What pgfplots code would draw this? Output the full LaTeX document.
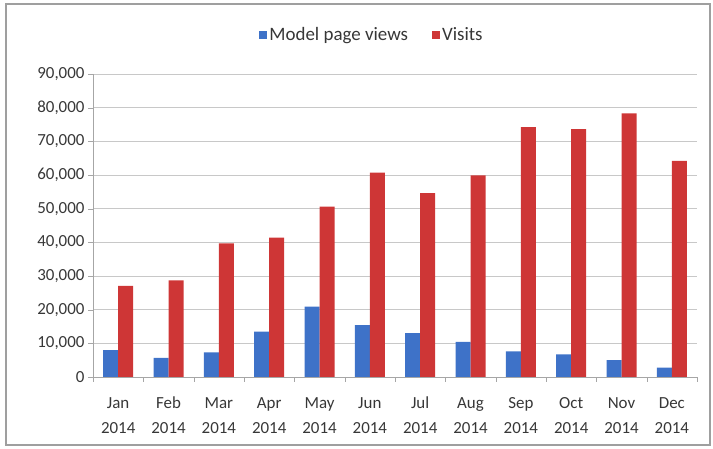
\documentclass[border=0pt]{standalone}
\usepackage{pgfplots}
\pgfplotsset{compat=1.18}
\usepackage{fontspec}
\setmainfont{Carlito}

\definecolor{mpv}{RGB}{62,114,200}
\definecolor{vis}{RGB}{206,54,54}
\definecolor{txt}{RGB}{55,55,55}
\definecolor{gridc}{RGB}{200,200,200}

\begin{document}
\begin{tikzpicture}[x=1bp,y=1bp]
  \path[use as bounding box] (0,0) rectangle (713,449);
  \draw[gray!75, line width=1.2bp] (6,4) rectangle (710,445);
  \begin{axis}[
    at={(93bp,72bp)}, anchor=south west,
    scale only axis,
    width=604bp, height=303bp,
    ybar=0pt, bar width=15bp,
    xmin=-0.5, xmax=11.5,
    ymin=0, ymax=90000,
    xtick={0,...,11},
    xticklabels={\strut Jan\\2014,\strut Feb\\2014,\strut Mar\\2014,\strut Apr\\2014,\strut May\\2014,\strut Jun\\2014,\strut Jul\\2014,\strut Aug\\2014,\strut Sep\\2014,\strut Oct\\2014,\strut Nov\\2014,\strut Dec\\2014},
    minor xtick={-0.5,0.5,...,11.5},
    ytick={0,10000,...,90000},
    scaled y ticks=false,
    /pgf/number format/fixed,
    /pgf/number format/1000 sep={,},
    /pgf/number format/assume math mode=true,
    x tick label style={align=center, text=txt, font=\fontsize{17}{25}\selectfont, yshift=-6bp},
    y tick label style={text=txt, font=\fontsize{17}{20}\selectfont},
    axis x line*=bottom, axis y line*=left,
    axis line style={gray!70, -},
    tick align=outside,
    major tick length=5bp, minor tick length=5bp,
    major x tick style={draw=none},
    tick style={gray!70},
    ymajorgrids, major grid style={gridc},
    legend style={at={(0.462,1.129)}, anchor=center, draw=none,
      font=\fontsize{19}{22}\selectfont, text=txt,
      legend columns=2,
      /tikz/every even column/.append style={column sep=22bp}},
    legend image code/.code={\fill[#1] (0bp,-4bp) rectangle (8bp,4bp);},
  ]
    \addplot[fill=mpv, draw=none] coordinates {(0,8000) (1,5700) (2,7300) (3,13500) (4,20900) (5,15400) (6,13000) (7,10400) (8,7600) (9,6700) (10,5000) (11,2800)};
    \addlegendentry{Model page views}

    \addplot[fill=vis, draw=none] coordinates {(0,27100) (1,28700) (2,39700) (3,41400) (4,50600) (5,60700) (6,54600) (7,59900) (8,74200) (9,73600) (10,78300) (11,64200)};
    \addlegendentry{Visits}
  \end{axis}
\end{tikzpicture}
\end{document}
